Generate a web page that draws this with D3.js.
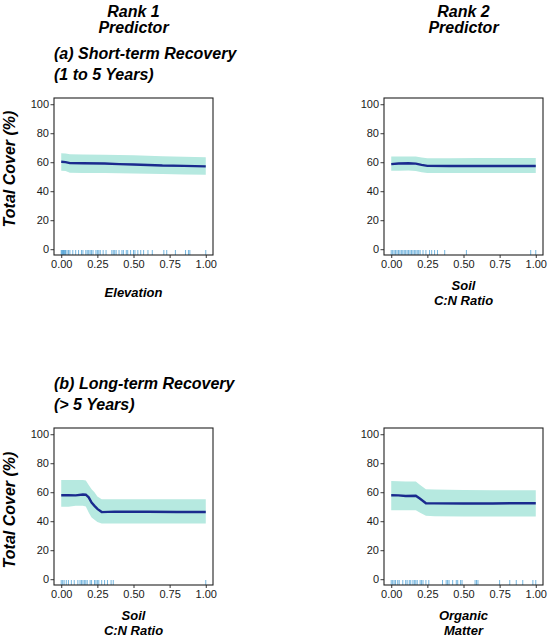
<!DOCTYPE html>
<html>
<head>
<meta charset="utf-8">
<script src="https://cdn.jsdelivr.net/npm/d3@7"></script>
<style>
  body { margin: 0; background: #fff; }
  svg text { font-family: "Liberation Sans", Arial, Helvetica, sans-serif; }
  .titolo { font-weight: bold; font-style: italic; font-size: 16px; fill: #000; }
  .asseTitolo { font-weight: bold; font-style: italic; font-size: 13px; fill: #000; }
  .asse text { font-size: 11px; fill: #1a1a1a; }
  .asse path { display: none; }
  .asse line { stroke: #222; stroke-width: 0.9; }
  .banda { fill: #b6e9e0; stroke: none; }
  .linea { fill: none; stroke: #1a2a8e; stroke-width: 2.4; }
  .rug { stroke: #1784c8; stroke-opacity: 0.6; stroke-width: 1; }
  .bordo { fill: none; stroke: #222; stroke-width: 1.1; }
</style>
</head>
<body>
<script>
// tick degli assi
const tickY = [0, 20, 40, 60, 80, 100];
const tickX = [0, 0.25, 0.5, 0.75, 1];

// (a) breve termine - Elevation
const elevX     = [0, 0.03, 0.06, 0.15, 0.3, 0.4, 0.5, 0.6, 0.7, 0.85, 1.0];
const elevFit   = [60.3, 60.1, 59.4, 59.3, 59.1, 58.7, 58.4, 58.1, 57.7, 57.5, 57.1];
const elevSopra = [66.2, 66.0, 65.5, 65.4, 65.2, 65.0, 64.8, 64.5, 64.2, 63.8, 63.4];
const elevSotto = [54.2, 54.0, 52.8, 52.6, 52.5, 52.4, 52.2, 52.0, 51.8, 51.6, 51.4];
const elevRug = [0, 0.005, 0.01, 0.015, 0.02, 0.025, 0.03, 0.04, 0.05, 0.06, 0.08, 0.1, 0.12, 0.14,
  0.15, 0.17, 0.18, 0.19, 0.2, 0.21, 0.22, 0.24, 0.25, 0.26, 0.27, 0.29, 0.31, 0.35, 0.36, 0.37,
  0.38, 0.4, 0.42, 0.43, 0.45, 0.46, 0.48, 0.5, 0.51, 0.53, 0.55, 0.57, 0.6, 0.63, 0.71, 0.73,
  0.79, 0.86, 0.88, 0.89, 1.0];

// (a) breve termine - Soil C:N
const cnBreveX     = [0, 0.05, 0.12, 0.17, 0.21, 0.25, 0.4, 0.6, 0.8, 1.0];
const cnBreveFit   = [58.7, 59.1, 59.3, 59.0, 58.2, 57.5, 57.4, 57.4, 57.4, 57.4];
const cnBreveSopra = [64.0, 64.0, 64.0, 63.9, 63.3, 62.8, 62.8, 62.9, 62.9, 62.9];
const cnBreveSotto = [54.1, 54.2, 54.3, 54.0, 53.1, 52.5, 52.5, 52.5, 52.5, 52.5];
const cnBreveRug = [0, 0.01, 0.02, 0.03, 0.04, 0.05, 0.06, 0.07, 0.08, 0.09, 0.1, 0.11, 0.12,
  0.13, 0.14, 0.15, 0.16, 0.17, 0.18, 0.19, 0.2, 0.22, 0.24, 0.265, 0.28, 0.3, 0.32, 0.37, 0.52,
  0.965, 1.0];

// (b) lungo termine - Soil C:N
const cnLungoX     = [0, 0.05, 0.10, 0.15, 0.17, 0.19, 0.21, 0.23, 0.25, 0.28, 0.37, 0.6, 0.8, 1.0];
const cnLungoFit   = [57.9, 57.9, 57.8, 58.4, 58.3, 56.5, 52.9, 50.6, 48.5, 46.3, 46.6, 46.5, 46.4, 46.4];
const cnLungoSopra = [68.5, 68.5, 68.5, 68.5, 68.0, 65.0, 62.0, 60.0, 57.0, 55.2, 55.2, 55.2, 55.2, 55.2];
const cnLungoSotto = [49.9, 50.0, 50.6, 50.6, 50.2, 46.0, 42.5, 41.0, 39.5, 38.4, 38.4, 38.4, 38.4, 38.4];
const cnLungoRug = [0, 0.01, 0.02, 0.035, 0.05, 0.07, 0.09, 0.115, 0.13, 0.14, 0.15, 0.16, 0.17,
  0.18, 0.2, 0.21, 0.23, 0.24, 0.25, 0.26, 0.28, 0.3, 0.32, 0.345, 0.36, 1.0];

// (b) lungo termine - Organic Matter
const omX     = [0, 0.05, 0.1, 0.17, 0.2, 0.24, 0.3, 0.5, 0.7, 0.85, 1.0];
const omFit   = [57.9, 57.8, 57.4, 57.6, 55.5, 52.4, 52.3, 52.2, 52.2, 52.4, 52.4];
const omSopra = [67.8, 67.6, 67.4, 67.4, 65.0, 62.0, 61.8, 61.5, 61.4, 61.4, 61.4];
const omSotto = [47.6, 47.6, 47.6, 47.6, 45.8, 43.7, 43.5, 43.3, 43.2, 43.2, 43.2];
const omRug = [0, 0.01, 0.02, 0.03, 0.045, 0.055, 0.08, 0.1, 0.11, 0.125, 0.135, 0.15, 0.16,
  0.17, 0.18, 0.2, 0.21, 0.22, 0.24, 0.26, 0.355, 0.38, 0.39, 0.4, 0.425, 0.45, 0.46, 0.48, 0.49,
  0.58, 0.59, 0.6, 0.75, 0.82, 0.865, 0.91, 0.98, 1.0];

// unisce i vettori in una lista di punti
let punti = function (xs, fit, sopra, sotto) {
  return xs.map(function (x, i) {
    return { x: x, fit: fit[i], sopra: sopra[i], sotto: sotto[i] };
  });
};

const pannelli = [
  { x: 54, y: 98, dati: punti(elevX, elevFit, elevSopra, elevSotto), rug: elevRug,
    titoloX: ["Elevation"], yTitolo: 169 },
  { x: 384, y: 98, dati: punti(cnBreveX, cnBreveFit, cnBreveSopra, cnBreveSotto), rug: cnBreveRug,
    titoloX: ["Soil", "C:N Ratio"] },
  { x: 54, y: 428, dati: punti(cnLungoX, cnLungoFit, cnLungoSopra, cnLungoSotto), rug: cnLungoRug,
    titoloX: ["Soil", "C:N Ratio"], yTitolo: 510 },
  { x: 384, y: 428, dati: punti(omX, omFit, omSopra, omSotto), rug: omRug,
    titoloX: ["Organic", "Matter"] }
];

const larghezza = 159, altezza = 157;

let svg = d3.select("body").append("svg")
  .attr("width", 550)
  .attr("height", 641);

// scale comuni
let scalaX = d3.scaleLinear().domain([-0.05, 1.05]).range([0, larghezza]);
let scalaY = d3.scaleLinear().domain([-4, 104.3]).range([altezza, 0]);

let banda = d3.area()
  .x(function (d) { return scalaX(d.x) })
  .y0(function (d) { return scalaY(d.sotto) })
  .y1(function (d) { return scalaY(d.sopra) });

let linea = d3.line()
  .x(function (d) { return scalaX(d.x) })
  .y(function (d) { return scalaY(d.fit) });

pannelli.forEach(function (p) {
  let g = svg.append("g").attr("transform", `translate(${p.x},${p.y})`);

  g.append("path").datum(p.dati).attr("class", "banda").attr("d", banda);
  g.append("path").datum(p.dati).attr("class", "linea").attr("d", linea);

  // rug in basso
  g.selectAll(".rug").data(p.rug).enter().append("line")
    .attr("class", "rug")
    .attr("x1", function (d) { return scalaX(d) })
    .attr("x2", function (d) { return scalaX(d) })
    .attr("y1", altezza)
    .attr("y2", altezza - 5);

  g.append("g").attr("class", "asse")
    .call(d3.axisLeft(scalaY).tickValues(tickY).tickSize(3.5).tickPadding(1.5));

  g.append("g").attr("class", "asse")
    .attr("transform", `translate(0,${altezza})`)
    .call(d3.axisBottom(scalaX).tickValues(tickX).tickFormat(d3.format(".2f")).tickSize(3).tickPadding(2.5));

  g.append("rect").attr("class", "bordo")
    .attr("width", larghezza).attr("height", altezza);

  // titolo asse x (una o due righe)
  let cx = larghezza / 2;
  let base = p.titoloX.length == 1 ? altezza + 42 : altezza + 35;
  p.titoloX.forEach(function (t, i) {
    g.append("text").attr("class", "asseTitolo")
      .attr("x", cx).attr("y", base + i * 15)
      .attr("text-anchor", "middle")
      .text(t);
  });

  if (p.yTitolo) {
    svg.append("text").attr("class", "titolo")
      .attr("transform", `translate(15,${p.yTitolo}) rotate(-90)`)
      .attr("text-anchor", "middle")
      .text("Total Cover (%)");
  }
});

// intestazioni delle colonne
[["Rank 1", "Predictor", 54], ["Rank 2", "Predictor", 384]].forEach(function (c) {
  svg.append("text").attr("class", "titolo").attr("x", c[2] + larghezza / 2).attr("y", 16.5)
    .attr("text-anchor", "middle").text(c[0]);
  svg.append("text").attr("class", "titolo").attr("x", c[2] + larghezza / 2).attr("y", 33)
    .attr("text-anchor", "middle").text(c[1]);
});

// titoli dei periodi
[["(a) Short-term Recovery", "(1 to 5 Years)", 58.5], ["(b) Long-term Recovery", "(> 5 Years)", 388.5]].forEach(function (r) {
  svg.append("text").attr("class", "titolo").attr("x", 54).attr("y", r[2]).text(r[0]);
  svg.append("text").attr("class", "titolo").attr("x", 54).attr("y", r[2] + 21.5).text(r[1]);
});
</script>
</body>
</html>
